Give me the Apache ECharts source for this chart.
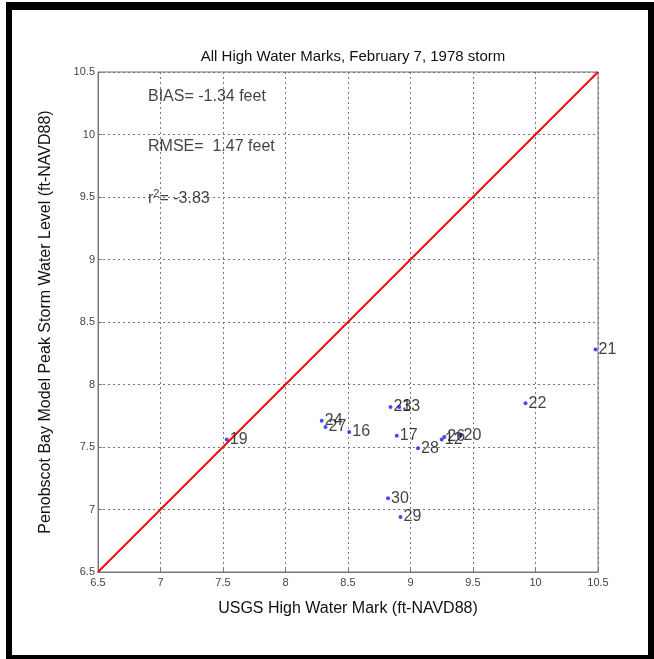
<!DOCTYPE html>
<html><head><meta charset="utf-8">
<script src="https://cdn.jsdelivr.net/npm/echarts@6/dist/echarts.min.js"></script>
<style>html,body{margin:0;padding:0;background:#fff}#c{width:654px;height:659px}</style>
</head><body><div id="c"></div>
<script>
const siteIds = ['24','27','16','23','13','17','28','12','26','20','30','29','19','21','22'];
const usgsHWM = [8.29, 8.32, 8.51, 8.84, 8.91, 8.89, 9.06, 9.25, 9.27, 9.40, 8.82, 8.92, 7.53, 10.48, 9.92];
const modelPeak = [7.71, 7.66, 7.62, 7.82, 7.82, 7.59, 7.49, 7.56, 7.58, 7.59, 7.09, 6.94, 7.56, 8.28, 7.85];
const oneToOne = [6.5, 10.5];
const statText = ['BIAS= -1.34 feet', 'RMSE=  1.47 feet', '{r|r}{sup|2}{r|= -3.83}'];
const statY = [10.30, 9.90, 9.49];
const statX = 6.9;

const chart = echarts.init(document.getElementById('c'));
const font = 'Liberation Sans, Arial, sans-serif';
const axisCommon = {
  type: 'value', min: 6.5, max: 10.5, interval: 0.5,
  axisLine: {show: true, onZero: false, lineStyle: {color: '#777', width: 1}},
  axisTick: {show: true, inside: true, length: 4, lineStyle: {color: '#777'}},
  splitLine: {show: true, lineStyle: {color: '#777', type: [2, 3], width: 1}},
  axisLabel: {color: '#444', fontSize: 11, fontFamily: font, formatter: v => String(v)}
};
chart.setOption({
  animation: false,
  backgroundColor: '#fff',
  title: {text: 'All High Water Marks, February 7, 1978 storm', left: 348, textAlign: 'center', top: 44,
    textStyle: {fontSize: 15, fontWeight: 'normal', color: '#111', fontFamily: font}},
  grid: {left: 98, right: 56, top: 72, bottom: 87, show: true, borderColor: '#777', borderWidth: 1},
  xAxis: Object.assign({}, axisCommon, {
    name: 'USGS High Water Mark (ft-NAVD88)', nameLocation: 'middle', nameGap: 29,
    nameTextStyle: {fontSize: 16, color: '#111', fontFamily: font},
    axisLabel: Object.assign({}, axisCommon.axisLabel, {margin: 5})
  }),
  yAxis: Object.assign({}, axisCommon, {
    name: 'Penobscot Bay Model Peak Storm Water Level (ft-NAVD88)', nameLocation: 'middle', nameGap: 44,
    nameTextStyle: {fontSize: 16, color: '#111', fontFamily: font},
    axisLabel: Object.assign({}, axisCommon.axisLabel, {margin: 3})
  }),
  series: [
    {type: 'line', data: oneToOne.map(v => [v, v]), symbol: 'none', lineStyle: {color: '#f00', width: 2}, z: 3},
    {type: 'scatter', data: usgsHWM.map((x, i) => ({value: [x, modelPeak[i]], name: siteIds[i]})),
      symbolSize: 4, itemStyle: {color: '#1a1aff'}, z: 4,
      label: {show: true, position: 'right', distance: 1, formatter: p => p.name,
        fontSize: 16, color: '#111', fontFamily: font}},
    {type: 'scatter', data: statY.map((y, i) => ({value: [statX, y], name: statText[i]})),
      symbolSize: 0, z: 5, silent: true,
      label: {show: true, position: 'right', distance: 0, formatter: p => p.name,
        fontSize: 16, color: '#111', fontFamily: font,
        rich: {r: {fontSize: 16, color: '#111', fontFamily: font},
               sup: {fontSize: 11, color: '#111', fontFamily: font, verticalAlign: 'top', padding: [0, 0, 8, 0]}}}}
  ],
  graphic: [
    {type: 'rect', shape: {x: 6, y: 2, width: 642, height: 8}, style: {fill: '#000'}},
    {type: 'rect', shape: {x: 6, y: 2, width: 6, height: 657}, style: {fill: '#000'}},
    {type: 'rect', shape: {x: 6, y: 655, width: 648, height: 4}, style: {fill: '#000'}},
    {type: 'rect', shape: {x: 648, y: 2, width: 6, height: 657}, style: {fill: '#000'}}
  ]
});
</script></body></html>
